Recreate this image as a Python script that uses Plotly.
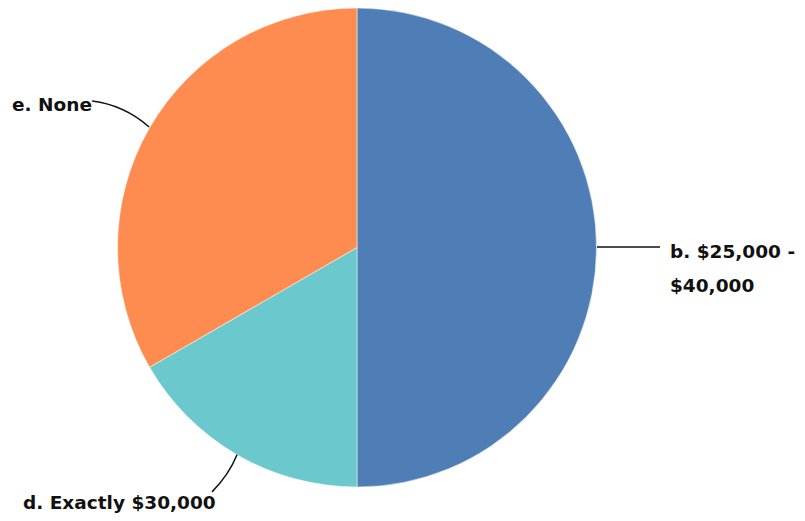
import math
import plotly.graph_objects as go

labels = ["b. $25,000 - $40,000", "d. Exactly $30,000", "e. None"]
label_text = ["b. $25,000 -<br>$40,000", "d. Exactly $30,000", "e. None"]
values = [3, 1, 2]
colors = ["#4f7db5", "#6bc8cc", "#fe8c51"]

W, H = 805, 521
OFF = 8  # page offset of the figure in the browser
CX, CY, R = 357, 247, 240  # pie centre and radius in screen pixels
LINE_GAP = 33


def px(x):
    return (x - OFF) / W


def py(y):
    return 1 - (y - OFF) / H


def clamp(v):
    return max(0.0, min(1.0, v))


fig = go.Figure(go.Pie(
    labels=labels,
    values=values,
    sort=False,
    direction="clockwise",
    rotation=0,
    marker=dict(colors=colors, line=dict(color="#ffffff", width=0.5)),
    textinfo="none",
    showlegend=False,
    domain=dict(x=[clamp(px(CX - R)), clamp(px(CX + R))],
                y=[clamp(py(CY + R)), clamp(py(CY - R))]),
))

total = sum(values)
cum = 0
shapes = []
annotations = []
font = dict(family="DejaVu Sans, sans-serif", size=18.5, color="#111111", weight="bold")


def add_label(text, x, y, xanchor):
    for i, line in enumerate(text.split("<br>")):
        annotations.append(dict(x=px(x), y=py(y + i * LINE_GAP), xref="paper", yref="paper",
                                text=line, showarrow=False, xanchor=xanchor,
                                yanchor="middle", align="left", font=font))


for lab, v in zip(label_text, values):
    mid = (cum + v / 2) / total * 2 * math.pi
    cum += v
    sx = CX + R * math.sin(mid)
    sy = CY - R * math.cos(mid)
    if math.sin(mid) > 0.5:  # right side
        ex, ey = sx + 63, sy
        cxp, cyp = (sx + ex) / 2, sy
        add_label(lab, ex + 8, ey + 5, "left")
    elif math.cos(mid) < -0.5:  # bottom
        ex, ey = sx - 25, sy + 37
        cxp, cyp = sx - 8, sy + 20
        add_label(lab, ex + 6, ey + 11, "right")
    else:  # upper left
        ex, ey = sx - 57, sy - 26
        cxp, cyp = sx - 25, sy - 22
        add_label(lab, ex + 2, ey + 3, "right")
    shapes.append(dict(type="path", xref="paper", yref="paper",
                       path=f"M {px(sx)} {py(sy)} Q {px(cxp)} {py(cyp)} {px(ex)} {py(ey)}",
                       line=dict(color="#111111", width=1.5)))

fig.update_layout(
    width=W, height=H,
    margin=dict(l=0, r=0, t=0, b=0),
    paper_bgcolor="#ffffff",
    plot_bgcolor="#ffffff",
    shapes=shapes,
    annotations=annotations,
)

fig.write_html("out.html")
